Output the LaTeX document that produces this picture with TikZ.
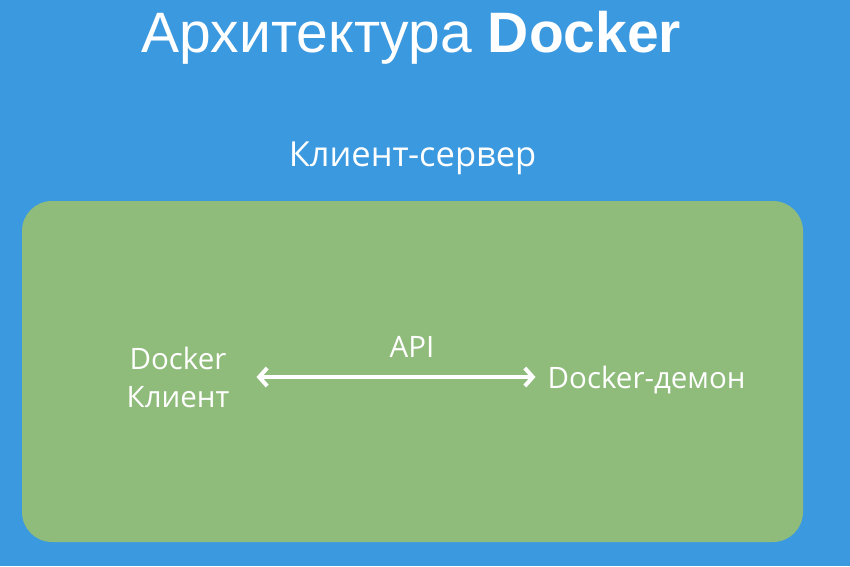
\documentclass[tikz,border=0pt]{standalone}
\usepackage{fontspec}
\setmainfont{Open Sans}
\newfontfamily\titlefont{Liberation Sans}
\usetikzlibrary{arrows.meta}
\definecolor{bgblue}{RGB}{59,153,224}
\definecolor{boxgreen}{RGB}{143,187,123}
\begin{document}
\begin{tikzpicture}[x=1pt,y=-1pt,
  txt/.style={text=white,inner sep=0pt,font=\fontsize{29.5}{38}\selectfont,align=center},
  apiarrow/.style={white,line width=4pt,{Straight Barb[length=8pt,width=18pt]}-{Straight Barb[length=8pt,width=18pt]}}]
\fill[bgblue](0,0)rectangle(850,566);
\fill[boxgreen,rounded corners=30pt](22,201)rectangle(803,542);
\node[txt,anchor=base,font=\titlefont\fontsize{57}{60}\selectfont](title)at(411.5,52){Архитектура \textbf{Docker}};
\node[txt,anchor=base,font=\fontsize{34.5}{40}\selectfont](sub)at(412.5,166){Клиент-сервер};
\node[txt](client)at(178,377){Docker\\Клиент};
\node[txt,anchor=base west](daemon)at(547.5,388){Docker-демон};
\node[txt,anchor=base](api)at(412,357){API};
\draw[apiarrow,shorten <=27pt,shorten >=12pt](client.east)--(client.east-|daemon.west);
\end{tikzpicture}
\end{document}
